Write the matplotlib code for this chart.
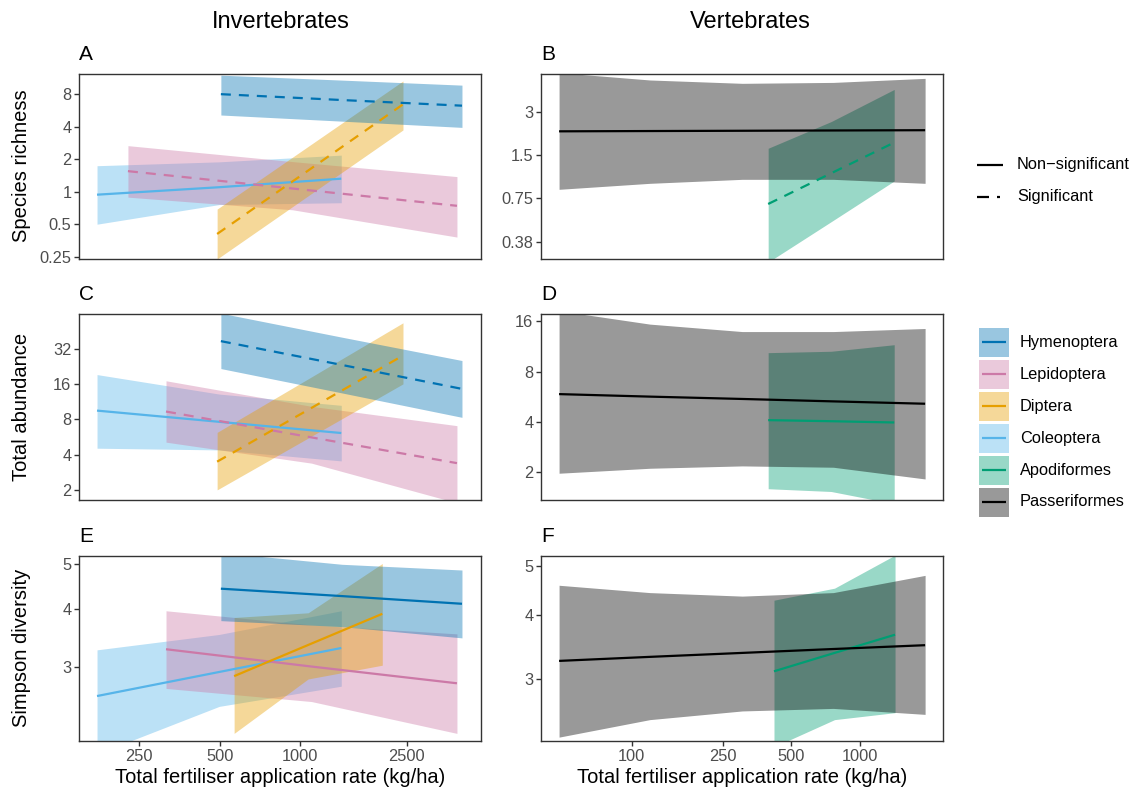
import matplotlib
matplotlib.use("Agg")
import matplotlib.pyplot as plt
from matplotlib.patches import Rectangle
from matplotlib.ticker import FixedLocator, FixedFormatter, NullLocator

plt.rcParams["font.family"] = ["Liberation Sans", "DejaVu Sans"]

W, H = 1134, 792

taxa = ["Hymenoptera", "Lepidoptera", "Diptera", "Coleoptera", "Apodiformes", "Passeriformes"]
line_colours = ["#0072B2", "#CC79A7", "#E69F00", "#56B4E9", "#009E73", "#000000"]
# layer order in the original (later ones sit on top)
draw_order = ["Apodiformes", "Passeriformes", "Coleoptera", "Lepidoptera", "Diptera", "Hymenoptera"]

# x = fertiliser rate (kg/ha); fit, lo, hi = model prediction and its 95% CI
# read off the original figure along each fitted range
richness_inv = {
    "Hymenoptera": dict(x=[505, 1430, 4020], fit=[8.0, 7.06, 6.26], lo=[5.13, 4.5, 3.94], hi=[12.0, 10.8, 9.7], sig=True),
    "Lepidoptera": dict(x=[227, 935, 3850], fit=[1.55, 1.07, 0.74], lo=[0.89, 0.68, 0.38], hi=[2.67, 1.9, 1.38], sig=True),
    "Diptera": dict(x=[489, 1090, 2420], fit=[0.406, 1.62, 6.44], lo=[0.238, 0.945, 3.73], hi=[0.69, 2.71, 10.6], sig=True),
    "Coleoptera": dict(x=[174, 498, 1423], fit=[0.938, 1.1, 1.32], lo=[0.5, 0.76, 0.79], hi=[1.74, 1.89, 2.18], sig=False),
}
richness_vert = {
    "Apodiformes": dict(x=[396, 748, 1413], fit=[0.685, 1.12, 1.83], lo=[0.27, 0.516, 0.99], hi=[1.67, 2.56, 4.28], sig=True),
    "Passeriformes": dict(x=[48, 120, 305, 764, 1930], fit=[2.19, 2.2, 2.21, 2.22, 2.23],
                          lo=[0.866, 0.953, 1.016, 1.016, 0.953], hi=[5.6, 4.98, 4.72, 4.79, 5.11], sig=False),
}
abundance_inv = {
    "Hymenoptera": dict(x=[505, 1430, 4020], fit=[37, 23.2, 14.5], lo=[21.6, 13.4, 8.3], hi=[64, 40, 25.3], sig=True),
    "Lepidoptera": dict(x=[315, 1101, 3850], fit=[9.3, 5.6, 3.38], lo=[5.1, 3.38, 1.55], hi=[17.0, 10.3, 7.05], sig=True),
    "Diptera": dict(x=[489, 1090, 2420], fit=[3.48, 9.85, 27.9], lo=[2.0, 5.66, 16.0], hi=[6.18, 18.1, 53], sig=True),
    "Coleoptera": dict(x=[174, 498, 1423], fit=[9.47, 7.6, 6.1], lo=[4.53, 4.38, 3.53], hi=[19.2, 13.1, 10.5], sig=False),
}
abundance_vert = {
    "Apodiformes": dict(x=[396, 748, 1413], fit=[4.11, 4.05, 3.98], lo=[1.6, 1.54, 1.3], hi=[10.4, 10.6, 11.6], sig=False),
    "Passeriformes": dict(x=[48, 120, 305, 764, 1930], fit=[5.88, 5.68, 5.5, 5.32, 5.15],
                          lo=[1.98, 2.12, 2.19, 2.15, 1.83], hi=[18.5, 15.4, 13.9, 13.9, 14.5], sig=False),
}
simpson_inv = {
    "Hymenoptera": dict(x=[505, 1430, 4020], fit=[4.43, 4.27, 4.11], lo=[3.78, 3.67, 3.47], hi=[5.3, 5.0, 4.86], sig=False),
    "Lepidoptera": dict(x=[315, 1101, 3850], fit=[3.28, 3.01, 2.77], lo=[2.7, 2.53, 2.16], hi=[3.97, 3.7, 3.54], sig=False),
    "Diptera": dict(x=[566, 1070, 2025], fit=[2.87, 3.35, 3.91], lo=[2.16, 2.83, 3.03], hi=[3.84, 3.93, 5.02], sig=False),
    "Coleoptera": dict(x=[174, 498, 1423], fit=[2.6, 2.93, 3.3], lo=[1.95, 2.47, 2.73], hi=[3.27, 3.53, 3.97], sig=False),
}
simpson_vert = {
    "Apodiformes": dict(x=[420, 774, 1425], fit=[3.1, 3.37, 3.66], lo=[2.2, 2.49, 2.57], hi=[4.28, 4.52, 5.25], sig=False),
    "Passeriformes": dict(x=[48, 120, 305, 764, 1930], fit=[3.25, 3.31, 3.37, 3.43, 3.49],
                          lo=[2.3, 2.49, 2.59, 2.62, 2.55], hi=[4.58, 4.43, 4.36, 4.43, 4.79], sig=False),
}

x_ticks_inv = [250, 500, 1000, 2500]
x_ticks_vert = [100, 250, 500, 1000]
y_ticks = {
    "A": ([0.25, 0.5, 1, 2, 4, 8], ["0.25", "0.5", "1", "2", "4", "8"]),
    "B": ([0.375, 0.75, 1.5, 3], ["0.38", "0.75", "1.5", "3"]),
    "C": ([2, 4, 8, 16, 32], ["2", "4", "8", "16", "32"]),
    "D": ([2, 4, 8, 16], ["2", "4", "8", "16"]),
    "E": ([3, 4, 5], ["3", "4", "5"]),
    "F": ([3, 4, 5], ["3", "4", "5"]),
}

# panel id -> data, pixel box (left, top, right, bottom), xlim, ylim
panels = [
    ("A", richness_inv, (79, 74, 481, 259), (149, 4735), (0.238, 12.3)),
    ("B", richness_vert, (541, 74, 943, 259), (40, 2312), (0.284, 5.48)),
    ("C", abundance_inv, (79, 314, 481, 500), (149, 4735), (1.64, 63)),
    ("D", abundance_vert, (541, 314, 943, 500), (40, 2312), (1.37, 17.7)),
    ("E", simpson_inv, (79, 556, 481, 741), (149, 4735), (2.08, 5.21)),
    ("F", simpson_vert, (541, 556, 943, 741), (40, 2312), (2.26, 5.23)),
]

dash = (0, (4.5, 3.6))
lw = 1.6
frame = "#333333"
tick_grey = "#4D4D4D"

fig = plt.figure(figsize=(W / 100, H / 100), dpi=100)

for pid, data, (l, t, r, b), xlim, ylim in panels:
    ax = fig.add_axes([l / W, 1 - b / H, (r - l) / W, (b - t) / H])
    ax.set_xscale("log")
    ax.set_yscale("log")
    # ribbon then line for each group, in the original layer order
    for name in draw_order:
        if name not in data:
            continue
        d = data[name]
        col = line_colours[taxa.index(name)]
        ax.fill_between(d["x"], d["lo"], d["hi"], color=col, alpha=0.4, lw=0)
        ax.plot(d["x"], d["fit"], color=col, lw=lw,
                linestyle=dash if d["sig"] else "-", solid_capstyle="butt")
    ax.set_xlim(*xlim)
    ax.set_ylim(*ylim)
    yt, yl = y_ticks[pid]
    ax.yaxis.set_major_locator(FixedLocator(yt))
    ax.yaxis.set_major_formatter(FixedFormatter(yl))
    ax.yaxis.set_minor_locator(NullLocator())
    ax.xaxis.set_minor_locator(NullLocator())
    if pid in ("E", "F"):
        xt = x_ticks_inv if pid == "E" else x_ticks_vert
        ax.xaxis.set_major_locator(FixedLocator(xt))
        ax.xaxis.set_major_formatter(FixedFormatter([str(v) for v in xt]))
        ax.set_xlabel("Total fertiliser application rate (kg/ha)", fontsize=14.5, labelpad=3)
    else:
        ax.xaxis.set_major_locator(NullLocator())
    ax.tick_params(axis="both", which="major", length=3.5, width=1.0, color=frame,
                   labelcolor=tick_grey, labelsize=11.8, pad=2)
    for sp in ax.spines.values():
        sp.set_color(frame)
        sp.set_linewidth(1.0)
    fig.text(l / W, 1 - (t - 20) / H, pid, fontsize=15, ha="left", va="center")

fig.text(22 / W, 1 - 166 / H, "Species richness", rotation=90, fontsize=14.5, ha="center", va="center")
fig.text(22 / W, 1 - 407 / H, "Total abundance", rotation=90, fontsize=14.5, ha="center", va="center")
fig.text(22 / W, 1 - 648 / H, "Simpson diversity", rotation=90, fontsize=14.5, ha="center", va="center")
fig.text(281 / W, 1 - 22 / H, "Invertebrates", fontsize=17, ha="center", va="center")
fig.text(750 / W, 1 - 22 / H, "Vertebrates", fontsize=17, ha="center", va="center")

# legends drawn by hand in pixel space
lg = fig.add_axes([0, 0, 1, 1])
lg.set_xlim(0, W)
lg.set_ylim(H, 0)
lg.axis("off")
lg.patch.set_visible(False)

lg.plot([977, 1003], [165, 165], color="black", lw=lw, solid_capstyle="butt")
lg.plot([977, 1003], [197, 197], color="black", lw=lw, linestyle=(0, (5.4, 3.6, 1.35, 10)))
lg.text(1017, 165, "Non\u2212significant", fontsize=11.8, va="center")
lg.text(1017, 197, "Significant", fontsize=11.8, va="center")

for i, (name, col) in enumerate(zip(taxa, line_colours)):
    yc = 342 + 32 * i
    lg.add_patch(Rectangle((979, yc - 14.5), 30, 29, facecolor=col, alpha=0.4, lw=0))
    lg.plot([982, 1006], [yc, yc], color=col, lw=lw, solid_capstyle="butt")
    lg.text(1020, yc, name, fontsize=11.8, va="center")

fig.savefig("out.png", dpi=100)
